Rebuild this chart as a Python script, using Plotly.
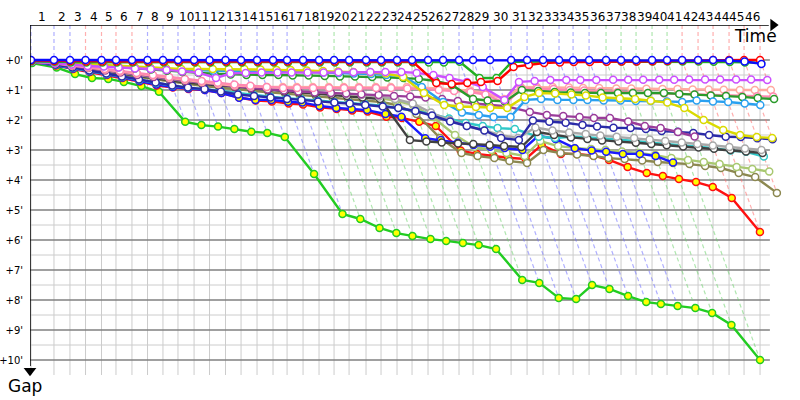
import plotly.graph_objects as go

# leader's lap completion times (minutes), laps 0..46
lap_times = [0.09, 2.22, 3.70, 5.14, 6.62, 7.96, 9.44, 10.88, 12.31, 13.70, 15.19,
             16.62, 18.10, 19.54, 21.02, 22.50, 23.80, 25.28, 26.76, 28.15, 29.54,
             31.11, 32.50, 33.98, 35.37, 36.85, 38.24, 39.72, 41.02, 42.59, 44.54,
             46.02, 47.50, 48.98, 50.28, 51.76, 53.33, 54.72, 56.11, 57.59, 58.98,
             60.37, 61.85, 63.24, 64.72, 66.11, 67.59]
lap_labels = [str(i) for i in range(1, 47)]
gap_ticks = list(range(0, 11))

# gap to the leader (minutes) at each lap, one list per car
gap_blue = [0.0] * 44 + [0.02, 0.05, 0.13]
gap_red = [0.02, 0.03, 0.04, 0.05, 0.05, 0.05, 0.05, 0.05, 0.05, 0.05, 0.05, 0.05,
           0.05, 0.05, 0.05, 0.05, 0.05, 0.05, 0.05, 0.05, 0.05, 0.05, 0.05, 0.05,
           0.05, 0.77, 0.80, 0.77, 0.73, 0.70, 0.23, 0.17, 0.10, 0.08, 0.07, 0.07,
           0.06, 0.05, 0.05, 0.04, 0.03, 0.02, 0.01, 0.0, 0.0, 0.0, 0.0]
gap_green = [0.04, 0.06, 0.08, 0.08, 0.08, 0.08, 0.08, 0.08, 0.08, 0.08, 0.08,
             0.08, 0.08, 0.08, 0.08, 0.08, 0.08, 0.08, 0.08, 0.08, 0.08, 0.08,
             0.08, 0.08, 0.08, 0.08, 0.08, 0.06, 0.60, 0.60, 0.06, 0.05, 0.05,
             0.05, 0.05, 0.05, 0.05, 0.05, 0.05, 0.05, 0.05, 0.05, 0.05, 0.06,
             0.07, 0.08, 0.09]
gap_violet = [0.05, 0.10, 0.15, 0.20, 0.22, 0.25, 0.28, 0.30, 0.33, 0.38, 0.42,
              0.60, 0.45, 0.43, 0.42, 0.42, 0.42, 0.42, 0.42, 0.41, 0.41, 0.40,
              0.40, 0.40, 0.43, 0.50, 0.60, 0.73, 0.90, 1.33, 0.73, 0.70, 0.67,
              0.67, 0.67, 0.67, 0.66, 0.66, 0.66, 0.66, 0.66, 0.65, 0.65, 0.65,
              0.65, 0.65, 0.67]
gap_yellow = [0.04, 0.08, 0.12, 0.15, 0.18, 0.20, 0.22, 0.25, 0.27, 0.30, 0.30,
              0.30, 0.30, 0.30, 0.32, 0.33, 0.33, 0.35, 0.37, 0.38, 0.40, 0.42,
              0.45, 0.57, 1.10, 1.50, 1.55, 1.57, 1.60, 1.60, 1.23, 1.10, 1.12,
              1.15, 1.18, 1.25, 1.28, 1.30, 1.36, 1.42, 1.60, 2.00, 2.33, 2.50,
              2.57, 2.60]
gap_lightblue = [0.04, 0.08, 0.12, 0.16, 0.20, 0.23, 0.26, 0.29, 0.31, 0.33, 0.35,
                 0.36, 0.37, 0.38, 0.38, 0.39, 0.40, 0.40, 0.42, 0.43, 0.45, 0.47,
                 0.50, 0.55, 0.90, 1.40, 1.75, 1.83, 1.90, 1.90, 1.33, 1.30, 1.33,
                 1.33, 1.33, 1.35, 1.35, 1.37, 1.37, 1.38, 1.40, 1.35, 1.38, 1.40,
                 1.45, 1.50]
gap_forest = [0.04, 0.08, 0.12, 0.16, 0.20, 0.24, 0.28, 0.32, 0.36, 0.40, 0.43,
              0.46, 0.48, 0.50, 0.50, 0.50, 0.52, 0.52, 0.53, 0.55, 0.55, 0.57,
              0.58, 0.60, 0.63, 0.70, 0.83, 1.30, 1.35, 1.38, 1.00, 1.03, 1.07,
              1.08, 1.10, 1.10, 1.10, 1.10, 1.10, 1.10, 1.13, 1.15, 1.18, 1.20,
              1.23, 1.27, 1.30]
gap_pink = [0.04, 0.10, 0.17, 0.23, 0.30, 0.36, 0.43, 0.50, 0.57, 0.63, 0.70,
            0.76, 0.82, 0.86, 0.90, 0.93, 0.93, 0.93, 0.93, 0.93, 0.93, 0.93,
            0.93, 0.95, 0.97, 1.00, 1.03, 1.07, 1.15, 1.45, 0.95, 0.95, 0.97,
            1.00, 1.02, 1.05, 1.07, 1.08, 1.10, 1.12, 1.13, 1.15, 1.17, 1.18,
            1.20, 1.21, 1.22]
gap_salmon = [0.05, 0.11, 0.18, 0.25, 0.32, 0.38, 0.45, 0.52, 0.59, 0.66, 0.73,
              0.80, 0.85, 0.88, 0.90, 0.90, 0.90, 0.90, 0.90, 0.90, 0.90, 0.90,
              0.90, 0.90, 0.92, 0.95, 0.98, 1.02, 1.10, 1.30, 0.90, 0.90, 0.90,
              0.92, 0.93, 0.93, 0.95, 0.95, 0.96, 0.97, 0.97, 0.98, 0.98, 0.99,
              1.00, 1.00, 1.00]
gap_purple = [0.05, 0.12, 0.20, 0.27, 0.35, 0.42, 0.50, 0.57, 0.64, 0.70, 0.76,
              0.82, 0.88, 0.93, 0.98, 1.02, 1.05, 1.08, 1.10, 1.12, 1.14, 1.17,
              1.20, 1.22, 1.25, 1.30, 1.37, 1.45, 1.50, 1.55, 1.73, 1.83, 1.87,
              1.90, 1.93, 1.93, 2.05, 2.20, 2.27, 2.40, 2.55]
gap_navy = [0.05, 0.15, 0.25, 0.35, 0.45, 0.55, 0.65, 0.75, 0.85, 0.92, 0.97,
            1.05, 1.15, 1.20, 1.25, 1.30, 1.33, 1.38, 1.42, 1.45, 1.50, 1.55,
            1.60, 1.70, 1.85, 2.05, 2.20, 2.35, 2.60, 2.67, 2.02, 2.06, 2.09,
            2.17, 2.22, 2.26, 2.27, 2.30, 2.37, 2.39, 2.43, 2.50, 2.56, 2.57,
            2.61, 2.64]
gap_gray = [0.05, 0.12, 0.20, 0.28, 0.35, 0.42, 0.50, 0.57, 0.64, 0.70, 0.75,
            0.80, 0.85, 0.90, 0.95, 1.00, 1.03, 1.07, 1.10, 1.13, 1.17, 1.22,
            1.30, 1.45, 1.75, 2.00, 2.20, 2.35, 2.50, 2.60, 2.25, 2.35, 2.42,
            2.47, 2.52, 2.56, 2.60, 2.65, 2.70, 2.75, 2.80, 2.85, 2.90, 2.95,
            3.00]
gap_dark = [0.05, 0.13, 0.22, 0.30, 0.38, 0.45, 0.52, 0.60, 0.68, 0.75, 0.80,
            0.85, 0.90, 0.95, 1.00, 1.05, 1.08, 1.12, 1.16, 1.20, 1.25, 1.30,
            2.67, 2.72, 2.75, 2.78, 2.80, 2.83, 2.87, 2.90, 2.40, 2.50, 2.58,
            2.63, 2.68, 2.72, 2.76, 2.80, 2.84, 2.88, 2.92, 2.96, 3.00, 3.05,
            3.10]
gap_turquoise = [0.06, 0.16, 0.27, 0.37, 0.47, 0.57, 0.67, 0.77, 0.86, 0.92, 0.96,
                 1.02, 1.10, 1.17, 1.22, 1.27, 1.30, 1.35, 1.40, 1.43, 1.47, 1.52,
                 1.60, 1.70, 1.80, 1.95, 2.10, 2.20, 2.27, 2.30, 2.56, 2.60, 2.56,
                 2.57, 2.61, 2.64, 2.70, 2.76, 2.80, 2.83, 2.89, 2.94, 3.02, 3.06,
                 3.22]
gap_yellowgreen = [0.05, 0.12, 0.20, 0.27, 0.34, 0.41, 0.48, 0.55, 0.62, 0.68, 0.74,
                   0.80, 0.86, 0.91, 0.96, 1.00, 1.04, 1.08, 1.12, 1.17, 1.22, 1.28,
                   1.35, 1.50, 1.90, 2.50, 2.90, 3.00, 3.10, 3.20, 2.70, 2.87, 2.93,
                   2.97, 3.00, 3.05, 3.10, 3.17, 3.27, 3.33, 3.40, 3.47, 3.57, 3.63,
                   3.72]
gap_olive = [0.06, 0.15, 0.25, 0.33, 0.40, 0.48, 0.56, 0.64, 0.72, 0.80, 0.87,
             0.92, 0.98, 1.03, 1.08, 1.12, 1.16, 1.20, 1.25, 1.30, 1.35, 1.40,
             1.50, 1.80, 2.60, 3.10, 3.20, 3.27, 3.37, 3.43, 3.00, 3.10, 3.15,
             3.20, 3.27, 3.30, 3.35, 3.40, 3.43, 3.47, 3.53, 3.60, 3.77, 3.90,
             4.43]
gap_blue_y = [0.05, 0.17, 0.28, 0.38, 0.48, 0.58, 0.70, 0.82, 0.90, 0.95, 1.00,
              1.10, 1.26, 1.33, 1.33, 1.39, 1.42, 1.53, 1.60, 1.63, 1.67, 1.80,
              1.89, 2.61, 2.67, 2.76, 2.83, 2.89, 2.93, 3.00, 2.53, 2.63, 2.94,
              3.02, 3.06, 3.13, 3.13, 3.20, 3.42]
gap_red_y = [0.06, 0.18, 0.30, 0.40, 0.50, 0.60, 0.72, 0.85, 0.92, 0.97, 1.00,
             1.10, 1.25, 1.35, 1.38, 1.45, 1.48, 1.58, 1.63, 1.68, 1.72, 1.89,
             1.93, 2.06, 2.20, 3.02, 3.13, 3.20, 3.26, 3.30, 2.83, 3.13, 3.13,
             3.19, 3.33, 3.57, 3.77, 3.87, 3.97, 4.07, 4.23, 4.60, 5.73]
gap_green_y = [0.10, 0.25, 0.47, 0.60, 0.63, 0.73, 0.87, 1.06, 2.06, 2.17, 2.22,
               2.30, 2.39, 2.43, 2.57, 3.80, 5.13, 5.30, 5.60, 5.77, 5.87, 5.97,
               6.03, 6.10, 6.17, 6.30, 7.33, 7.43, 7.93, 7.97, 7.50, 7.63, 7.87,
               8.07, 8.13, 8.20, 8.27, 8.43, 8.83, 10.00]

# (gaps, line colour, marker fill), drawn back to front
cars = [
    (gap_green_y, "#22cc22", "#ffff00"),
    (gap_red_y, "#ff1010", "#ffff00"),
    (gap_olive, "#8c8850", "white"),
    (gap_yellowgreen, "#a8c870", "white"),
    (gap_blue_y, "#1a1aff", "#ffff00"),
    (gap_turquoise, "#30c8c8", "white"),
    (gap_dark, "#404040", "white"),
    (gap_gray, "#a8a8a8", "white"),
    (gap_navy, "#2a2aa8", "white"),
    (gap_purple, "#9a3c9a", "white"),
    (gap_salmon, "#ffaaa0", "white"),
    (gap_pink, "#ff88b0", "white"),
    (gap_forest, "#2a9a2a", "white"),
    (gap_lightblue, "#2aa0f0", "white"),
    (gap_yellow, "#dada00", "white"),
    (gap_violet, "#cc50ff", "white"),
    (gap_green, "#22b022", "white"),
    (gap_red, "#ff0000", "white"),
    (gap_blue, "#0a0aff", "white"),
]

SPAN_Y = -1.1667
Y_BOTTOM = 10.8333
X_RIGHT = 69.9
GRID_END = 68.5

fig = go.Figure()

# grid
for t in lap_times:
    fig.add_shape(type="line", x0=t, x1=t, y0=0, y1=10.5,
                  line=dict(color="#cccccc", width=1), layer="below")
for i in range(0, 21):
    g = i / 2
    fig.add_shape(type="line", x0=0, x1=GRID_END, y0=g, y1=g,
                  line=dict(color="#808080" if i % 2 == 0 else "#cccccc",
                            width=1.3 if i % 2 == 0 else 1), layer="below")


# dashed lap lines, reaching the last car of each lap
def lap_colour(k):
    if k <= 2 or 7 <= k <= 16 or 27 <= k <= 35:
        return "rgba(110,110,255,0.55)"
    if 3 <= k <= 6 or k >= 41:
        return "rgba(255,110,110,0.55)"
    return "rgba(110,210,110,0.55)"


for k, t in enumerate(lap_times):
    worst = max(c[0][k] for c in cars if len(c[0]) > k)
    fig.add_trace(go.Scatter(
        x=[t, t, t + worst], y=[SPAN_Y, 0, worst], mode="lines",
        line=dict(color=lap_colour(k), width=1.2, dash="4px,3px"),
        hoverinfo="skip", showlegend=False))

# car lines
for gaps, colour, fill in cars:
    fig.add_trace(go.Scatter(
        x=[lap_times[k] + g for k, g in enumerate(gaps)], y=gaps,
        mode="lines+markers",
        line=dict(color=colour, width=2.4),
        marker=dict(size=7, color=fill, line=dict(color=colour, width=1.5)),
        showlegend=False))

# axes with arrows
fig.add_shape(type="line", x0=0, x1=68.4, y0=SPAN_Y, y1=SPAN_Y,
              line=dict(color="black", width=1.5))
fig.add_shape(type="line", x0=0, x1=0, y0=SPAN_Y, y1=10.2,
              line=dict(color="black", width=1.5))
fig.add_trace(go.Scatter(x=[68.8], y=[SPAN_Y], mode="markers",
                         marker=dict(symbol="triangle-right", size=11, color="black"),
                         cliponaxis=False, hoverinfo="skip", showlegend=False))
fig.add_trace(go.Scatter(x=[0], y=[10.36], mode="markers",
                         marker=dict(symbol="triangle-down", size=11, color="black"),
                         cliponaxis=False, hoverinfo="skip", showlegend=False))

# lap numbers along the top
for k, lab in enumerate(lap_labels):
    fig.add_annotation(x=(lap_times[k] + lap_times[k + 1]) / 2, y=1, yref="paper",
                       text=lab, showarrow=False, yanchor="bottom", yshift=-1,
                       font=dict(size=12, color="black"))

fig.add_annotation(x=1, xref="paper", y=1, yref="paper", text="Time",
                   showarrow=False, xanchor="right", yanchor="top", xshift=-6, yshift=1,
                   font=dict(size=17, color="black"))
fig.add_annotation(x=0, y=0, yref="paper", text="Gap", showarrow=False,
                   yanchor="middle", xshift=-5, yshift=-1,
                   font=dict(size=17, color="black"))

fig.update_layout(
    width=800, height=400,
    margin=dict(l=30, r=15, t=25, b=15),
    plot_bgcolor="white", paper_bgcolor="white",
    font=dict(family="DejaVu Sans", color="black"),
    xaxis=dict(range=[0, X_RIGHT], showgrid=False, zeroline=False,
               showticklabels=False, showline=False, automargin=False),
    yaxis=dict(range=[Y_BOTTOM, SPAN_Y], showgrid=False, zeroline=False,
               tickvals=gap_ticks, ticktext=["+%d'" % g for g in gap_ticks],
               tickfont=dict(size=10), ticklabelstandoff=6, showline=False,
               automargin=False),
)

# drop the browser's default body margin so the chart sits at the page corner
fig.write_html("out.html", config={"displayModeBar": False},
               post_script="document.body.style.margin='0';")
